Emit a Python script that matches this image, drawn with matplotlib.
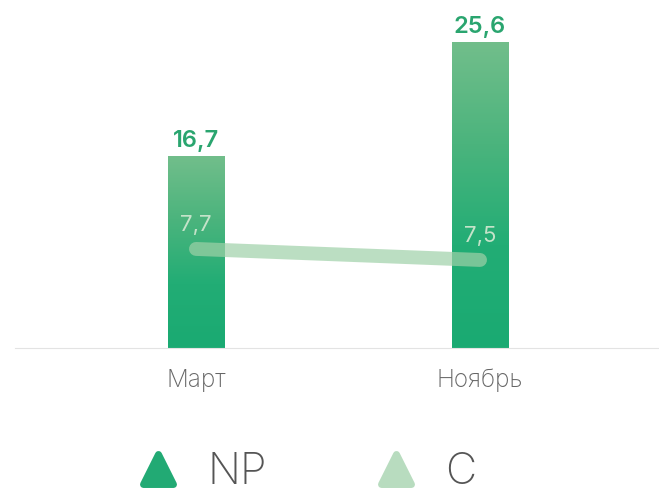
import numpy as np
import matplotlib.pyplot as plt
from matplotlib.colors import LinearSegmentedColormap
from matplotlib.lines import Line2D
from matplotlib.markers import MarkerStyle

plt.rcParams['font.family'] = ['Inter', 'DejaVu Sans']

months = ['Март', 'Ноябрь']
np_vals = [16.7, 25.6]
c_vals = [7.7, 7.5]
np_labels = ['16,7', '25,6']
c_labels = ['7,7', '7,5']

fig = plt.figure(figsize=(6.59, 4.92), dpi=100)
ax = fig.add_axes([15 / 659, 1 - 348 / 492, 644 / 659, 328 / 492])
x = np.arange(len(months))

grad = LinearSegmentedColormap.from_list('g', ['#1aaa72', '#22ad75', '#4bb47d', '#72be8b'])
ax.set_xlim(-0.637, 1.63)
ax.set_ylim(1.71, 27.3)
bars = ax.bar(x, np_vals, width=0.2, color='none')
img = np.linspace(0, 1, 256).reshape(-1, 1)
ybot = ax.get_ylim()[0]
for b in bars:
    x0 = b.get_x()
    im = ax.imshow(img, cmap=grad, origin='lower', aspect='auto',
                   extent=[x0, x0 + b.get_width(), ybot, b.get_height()], zorder=2)
    im.set_clip_path(b)
ax.set_xlim(-0.637, 1.63)
ax.set_ylim(1.71, 27.3)

for xi, v, lab in zip(x, np_vals, np_labels):
    ax.annotate(lab, (xi, v), xytext=(0, 3), textcoords='offset points',
                ha='center', va='bottom', fontsize=17, color='#2aa56f', fontweight='semibold')

ax2 = ax.twinx()
ax2.set_ylim(5.9, 11.86)
ax2.plot(x, c_vals, color='#9fd1a8', alpha=0.7, lw=10, solid_capstyle='round', zorder=3)
for xi, v, lab in zip(x, c_vals, c_labels):
    ax2.annotate(lab, (xi, v), xytext=(0, 10), textcoords='offset points',
                 ha='center', va='bottom', fontsize=16, color='#c4e3c9')

for a in (ax, ax2):
    for s in a.spines.values():
        s.set_visible(False)
    a.set_yticks([])
ax.spines['bottom'].set_visible(True)
ax.spines['bottom'].set_color('#e3e3e3')
ax.set_xticks(x)
ax.set_xticklabels(months, fontsize=17.5, color='#666666', fontweight='light')
ax.tick_params(axis='x', length=0, pad=15)

tri = MarkerStyle('^', joinstyle='round')
handles = [Line2D([], [], marker=tri, ls='none', ms=22, mew=5, color='#22aa74', mec='#22aa74'),
           Line2D([], [], marker=tri, ls='none', ms=22, mew=5, color='#b8dcbf', mec='#b8dcbf')]
leg = fig.legend(handles, ['NP', 'C'], loc='lower center', bbox_to_anchor=(0.457, -0.08),
                 ncol=2, frameon=False, fontsize=31, labelcolor='#555555',
                 columnspacing=2.25, handletextpad=0.4, handlelength=1.5)
for t in leg.get_texts():
    t.set_fontweight('light')

fig.savefig('out.png', dpi=100)
